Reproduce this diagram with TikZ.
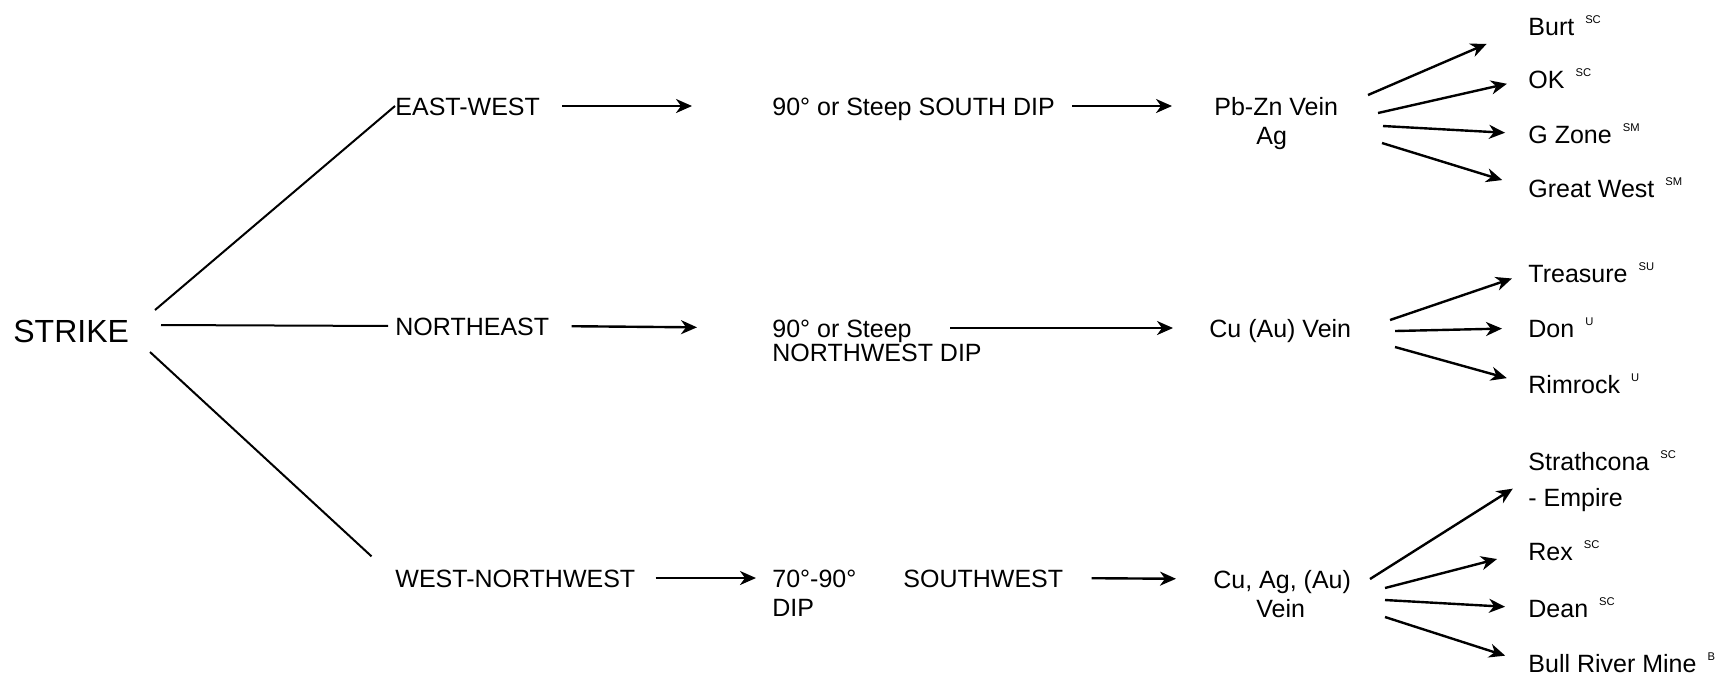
\documentclass[tikz,border=0pt]{standalone}
\usepackage{fontspec}
\setmainfont{Liberation Sans}
\usetikzlibrary{arrows.meta,calc}
% small raised deposit-type tag after a mine name
\newcommand{\minetag}[1]{\hspace{5.5pt}\raisebox{6pt}{\fontsize{5.6}{6}\selectfont #1}}

\begin{document}
\begin{tikzpicture}[x=0.5pt,y=-0.5pt,
  lbl/.style={anchor=base west,inner sep=0pt,text height=9pt,text depth=0pt,
              font=\fontsize{12.5}{15}\selectfont},
  arr/.style={line width=1.2pt,-{Stealth[length=8pt,width=7pt,inset=2.5pt]}},
  ln/.style={line width=1pt}]
\useasboundingbox (0,0) rectangle (1727,677);

% root
\node[lbl,font=\fontsize{16}{18}\selectfont,text height=11.5pt] (strike) at (13,342) {STRIKE};

% strike directions
\node[lbl] (ew)  at (395,115) {EAST-WEST};
\node[lbl] (ne)  at (395,335) {NORTHEAST};
\node[lbl] (wnw) at (395,587) {WEST-NORTHWEST};

% dips
\node[lbl] (dipS)   at (772,115) {90° or Steep SOUTH DIP};
\node[lbl] (dipNWa) at (772,337) {90° or Steep};
\node[lbl] (dipNWb) at (772,361) {NORTHWEST DIP};
\node[lbl] (dipWa)  at (772,587) {70°-90°};
\node[lbl] (dipWb)  at (772,616) {DIP};
\node[lbl] (sw)     at (903,587) {SOUTHWEST};

% vein types
\node[lbl] (pbzn) at (1214,115) {Pb-Zn Vein};
\node[lbl] (ag)   at (1256,144) {Ag};
\node[lbl] (cuau) at (1209,337) {Cu (Au) Vein};
\node[lbl] (cuag) at (1213,588) {Cu, Ag, (Au)};
\node[lbl] (vein) at (1256,617) {Vein};

% mines
\node[lbl] (burt)   at (1528,35)  {Burt\minetag{SC}};
\node[lbl] (ok)     at (1528,88)  {OK\minetag{SC}};
\node[lbl] (gzone)  at (1528,143) {G Zone\minetag{SM}};
\node[lbl] (gwest)  at (1528,197) {Great West\minetag{SM}};
\node[lbl] (treas)  at (1528,282) {Treasure\minetag{SU}};
\node[lbl] (don)    at (1528,337) {Don\minetag{U}};
\node[lbl] (rim)    at (1528,393) {Rimrock\minetag{U}};
\node[lbl] (strath) at (1528,470) {Strathcona\minetag{SC}};
\node[lbl] (emp)    at (1528,506) {- Empire};
\node[lbl] (rex)    at (1528,560) {Rex\minetag{SC}};
\node[lbl] (dean)   at (1528,617) {Dean\minetag{SC}};
\node[lbl] (bull)   at (1528,672) {Bull River Mine\minetag{B}};

% branch origins
\coordinate (s1) at (155,310);
\coordinate (s2) at (161,325);
\coordinate (s3) at (150,352);
\coordinate (p1) at (1368,95);
\coordinate (p2) at (1378,113);
\coordinate (p3) at (1383,126);
\coordinate (p4) at (1382,143);
\coordinate (c1) at (1390,320);
\coordinate (c2) at (1395,331);
\coordinate (c3) at (1395,347);
\coordinate (a1) at (1370,579);
\coordinate (a2) at (1385,588);
\coordinate (a3) at (1385,600);
\coordinate (a4) at (1385,617);

% strike fan
\draw[ln] (s1) -- (ew.west);
\draw[ln,shorten >=3.5pt] (s2) -- (ne.west);
\draw[ln,shorten >=16pt] (s3) -- (wnw.west);

% direction -> dip
\draw[arr,shorten <=11pt,shorten >=40pt] (ew.east) -- (dipS.west);
\draw[arr,shorten <=11pt,shorten >=37.5pt] (ne.east) -- (dipNWa.west);
\draw[arr,shorten <=10pt,shorten >=8pt] (wnw.east) -- (dipWa.west);

% dip -> vein
\draw[arr,shorten <=8.5pt,shorten >=21pt] (dipS.east) -- (pbzn.west);
\draw[arr,shorten <=19pt,shorten >=18pt] (dipNWa.east) -- (cuau.west);
\draw[arr,shorten <=14pt,shorten >=18.5pt] (sw.east) -- (cuag.west);

% vein -> mines
\draw[arr,shorten >=22.5pt] (p1) -- (burt.west);
\draw[arr,shorten >=10.8pt] (p2) -- (ok.west);
\draw[arr,shorten >=11.5pt] (p3) -- (gzone.west);
\draw[arr,shorten >=13.5pt] (p4) -- (gwest.west);

\draw[arr,shorten >=8.5pt] (c1) -- (treas.west);
\draw[arr,shorten >=13pt] (c2) -- (don.west);
\draw[arr,shorten >=11pt] (c3) -- (rim.west);

\draw[arr,shorten >=9pt] (a1) -- ($(strath.west)!0.5!(emp.west)$);
\draw[arr,shorten >=16pt] (a2) -- (rex.west);
\draw[arr,shorten >=11.5pt] (a3) -- (dean.west);
\draw[arr,shorten >=12pt] (a4) -- (bull.west);
\end{tikzpicture}
\end{document}
